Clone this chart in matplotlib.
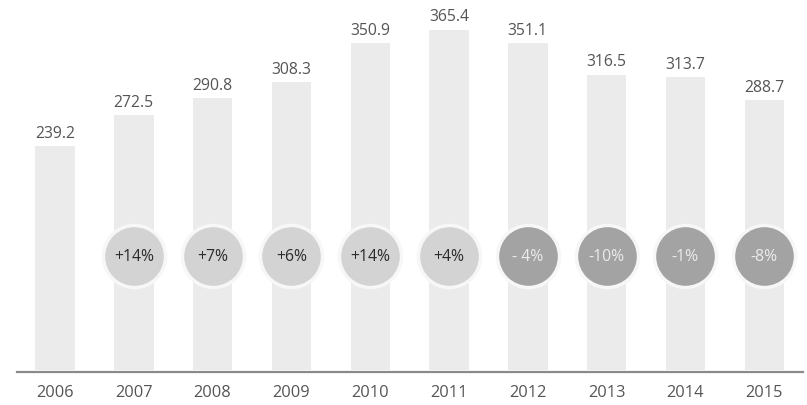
import matplotlib
matplotlib.use("Agg")
import matplotlib.pyplot as plt
import numpy as np

plt.rcParams['font.family'] = ['Open Sans', 'DejaVu Sans']

years = ['2006', '2007', '2008', '2009', '2010', '2011', '2012', '2013', '2014', '2015']
values = [239.2, 272.5, 290.8, 308.3, 350.9, 365.4, 351.1, 316.5, 313.7, 288.7]
change_labels = [None, '+14%', '+7%', '+6%', '+14%', '+4%', '- 4%', '-10%', '-1%', '-8%']
change_positive = [None, True, True, True, True, True, False, False, False, False]

fig = plt.figure(figsize=(8.07, 4.06), dpi=100)
ax = fig.add_axes([0, 0, 1, 1])
ax.set_xlim(-0.698, 9.543)
ax.set_ylim(-41.9, 398.7)
ax.axis('off')

x = np.arange(len(years))
bar_pad = 3.6
ax.bar(x, np.array(values) + bar_pad, bottom=-bar_pad, width=0.5,
       color='#ebebeb', zorder=1)

for xi, v in zip(x, values):
    ax.annotate(f'{v:.1f}', (xi, v), xytext=(0, 9.6), textcoords='offset points',
                ha='center', va='center', fontsize=11.3, color='#555555')

circle_y = 120.1
for xi, lab, pos in zip(x, change_labels, change_positive):
    if lab is None:
        continue
    fc = '#d3d3d3' if pos else '#a3a3a3'
    tc = '#2b2b2b' if pos else '#ececec'
    ax.scatter([xi], [circle_y], s=2000, color=fc, edgecolor='#f7f7f7',
               linewidth=2.5, zorder=3)
    ax.text(xi, circle_y, lab, ha='center', va='center', fontsize=11.3,
            color=tc, zorder=4)

axis_y = -5.75
ax.axhline(axis_y, xmin=(17 / 807), xmax=(803 / 807), color='#8a8a8a', lw=1.6, zorder=2)

for xi, yr in zip(x, years):
    ax.annotate(yr, (xi, axis_y), xytext=(0, -14.8), textcoords='offset points',
                ha='center', va='center', fontsize=11.8, color='#555555')

fig.savefig('out.png', dpi=100)
